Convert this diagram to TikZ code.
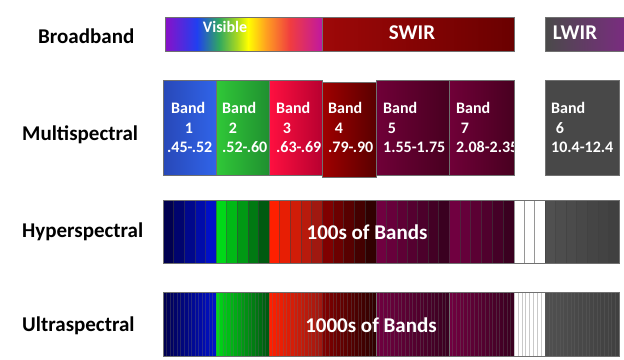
\documentclass[tikz,border=0pt]{standalone}
\usepackage{fontspec}
\setmainfont{Carlito}
\definecolor{vpurple}{HTML}{8A10C8}
\definecolor{vblue}{HTML}{2040F0}
\definecolor{vgreen}{HTML}{30A860}
\definecolor{vyg}{HTML}{A8D820}
\definecolor{vyellow}{HTML}{FFFF00}
\definecolor{vorange}{HTML}{FFA020}
\definecolor{vred}{HTML}{F03C40}
\definecolor{vmag}{HTML}{C018A0}
\definecolor{swirA}{HTML}{9E0808}
\definecolor{swirB}{HTML}{6A0000}
\definecolor{lwirA}{HTML}{4A4A4A}
\definecolor{lwirB}{HTML}{7A2C80}
\definecolor{b1A}{HTML}{2848B8}
\definecolor{b1B}{HTML}{3064E8}
\definecolor{b2A}{HTML}{30C838}
\definecolor{b2B}{HTML}{209030}
\definecolor{b3A}{HTML}{FF1040}
\definecolor{b3B}{HTML}{B80030}
\definecolor{b4A}{HTML}{A00000}
\definecolor{b4B}{HTML}{5A0000}
\definecolor{b5A}{HTML}{700038}
\definecolor{b5B}{HTML}{480020}
\definecolor{b6}{HTML}{484848}
\definecolor{edge}{HTML}{707070}
% stripe colours
\definecolor{sbluA}{HTML}{000050}
\definecolor{sbluB}{HTML}{0010C8}
\definecolor{sgrnA}{HTML}{00D818}
\definecolor{sgrnB}{HTML}{005A10}
\definecolor{sredA}{HTML}{FF2000}
\definecolor{sredB}{HTML}{A01810}
\definecolor{sdrkA}{HTML}{800000}
\definecolor{sdrkB}{HTML}{300000}
\definecolor{smarA}{HTML}{700040}
\definecolor{smarB}{HTML}{3A0020}
\definecolor{sgryA}{HTML}{505050}
\definecolor{sgryB}{HTML}{404040}
\newcommand\stripes[8]{%
  \foreach \i in {1,...,#3}{%
    \pgfmathsetmacro\xa{#1+(#2-#1)*(\i-1)/#3}%
    \pgfmathsetmacro\xb{#1+(#2-#1)*\i/#3}%
    \pgfmathsetmacro\pc{100-100*(\i-1)/max(#3-1,1)}%
    \fill[#4!\pc!#5] (\xa,#6) rectangle (\xb,#7);
    \draw[#8] (\xa,#6) -- (\xa,#7);
  }}
\tikzset{
  rowlabel/.style={anchor=west,font=\fontsize{21}{21}\selectfont\bfseries,inner sep=0pt},
  bandtxt/.style={text=white,font=\fontsize{16}{16}\selectfont\bfseries,inner sep=0pt},
  bigtxt/.style={text=white,font=\fontsize{21}{21}\selectfont\bfseries,inner sep=0pt},
  hline/.style={draw=black!75,line width=0.5pt,opacity=0.55},
  uline/.style={draw=black!60,line width=0.35pt,opacity=0.35},
  boxedge/.style={draw=edge,line width=0.6pt},
}
\begin{document}
\begin{tikzpicture}[x=1pt,y=-1pt]
\useasboundingbox (0,0) rectangle (624,359);
% row labels
\node[rowlabel] (lbb) at (38,36) {Broadband};
\node[rowlabel] (lms) at (22,135) {Multispectral};
\node[rowlabel] (lhs) at (22,232) {Hyperspectral};
\node[rowlabel] (lus) at (22,326) {Ultraspectral};
% ---------- Broadband
\shade[left color=vpurple,right color=vblue] (165,17) rectangle (197,51);
\shade[left color=vblue,right color=vgreen] (197,17) rectangle (219,51);
\shade[left color=vgreen,right color=vyg] (219,17) rectangle (237,51);
\shade[left color=vyg,right color=vyellow] (237,17) rectangle (248,51);
\shade[left color=vyellow,right color=vorange] (248,17) rectangle (266,51);
\shade[left color=vorange,right color=vred] (266,17) rectangle (290,51);
\shade[left color=vred,right color=vmag] (290,17) rectangle (322,51);
\shade[left color=swirA,right color=swirB] (322,17) rectangle (514,51);
\draw[boxedge] (165,17) rectangle (514,51);
\draw[boxedge] (322,17) -- (322,51);
\shade[left color=lwirA,right color=lwirB] (545,17) rectangle (625,51);
\draw[boxedge] (625,17) -| (545,51) -- (625,51);
\node[bigtxt,font=\fontsize{16}{16}\selectfont\bfseries] (tvis) at (225,27) {Visible};
\node[bigtxt] (tswir) at (412,33) {SWIR};
\node[bigtxt] (tlwir) at (575,33) {LWIR};
% ---------- Multispectral
\shade[left color=b1A,right color=b1B,boxedge] (163,80) rectangle (216,175);
\shade[left color=b2A,right color=b2B,boxedge] (216,80) rectangle (269,175);
\shade[left color=b3A,right color=b3B,boxedge] (269,80) rectangle (322,175);
\shade[left color=b5A,right color=b5B,boxedge] (376,80) rectangle (449,175);
\shade[left color=b5A,right color=b5B,boxedge] (449,80) rectangle (514,175);
\shade[left color=b4A,right color=b4B,boxedge] (322,82) rectangle (376,177);
\fill[b6] (545,80) rectangle (619,175);
\draw[boxedge] (545,80) rectangle (619,175);
% band texts
\foreach \bx/\nx/\rx/\n/\r [count=\k] in {171/189/167/1/.45-.52, 222/233/222/2/.52-.60, 276/287/276/3/.63-.69, 328/339/328/4/.79-.90, 383/392/383/5/1.55-1.75, 551/560/551/6/10.4-12.4}{
  \node[bandtxt,anchor=west] (bw\k) at (\bx,108) {Band};
  \node[bandtxt] (bn\k) at (\nx,128) {\n};
  \node[bandtxt,anchor=west] (br\k) at (\rx,147) {\r};
}
\begin{scope}
  \clip (449,80) rectangle (513.5,175);
  \node[bandtxt,anchor=west] (bw7) at (456,108) {Band};
  \node[bandtxt] (bn7) at (465,128) {7};
  \node[bandtxt,anchor=west] (br7) at (456,147) {2.08-2.35};
\end{scope}
% ---------- Hyperspectral
\stripes{163}{216}{5}{sbluA}{sbluB}{200}{263}{hline}
\stripes{216}{269}{5}{sgrnA}{sgrnB}{200}{263}{hline}
\stripes{269}{322}{5}{sredA}{sredB}{200}{263}{hline}
\stripes{322}{376}{5}{sdrkA}{sdrkB}{200}{263}{hline}
\stripes{376}{449}{7}{smarA}{smarB}{200}{263}{hline}
\stripes{449}{514}{6}{smarA}{smarB}{200}{263}{hline}
\stripes{514}{545}{3}{white}{white}{200}{263}{hline}
\stripes{545}{619}{7}{sgryA}{sgryB}{200}{263}{hline}
\draw[boxedge] (163,200) rectangle (619,263);
\node[bigtxt] (t100) at (367,232) {100s of Bands};
% ---------- Ultraspectral
\stripes{163}{216}{15}{sbluA}{sbluB}{292}{356}{uline}
\stripes{216}{269}{15}{sgrnA}{sgrnB}{292}{356}{uline}
\stripes{269}{322}{15}{sredA}{sredB}{292}{356}{uline}
\stripes{322}{376}{15}{sdrkA}{sdrkB}{292}{356}{uline}
\stripes{376}{449}{20}{smarA}{smarB}{292}{356}{uline}
\stripes{449}{514}{18}{smarA}{smarB}{292}{356}{uline}
\stripes{514}{545}{8}{white}{white}{292}{356}{uline}
\stripes{545}{619}{20}{sgryA}{sgryB}{292}{356}{uline}
\draw[boxedge] (163,292) rectangle (619,356);
\draw[boxedge] (376,292) -- (376,356) (449,292) -- (449,356);
\node[bigtxt] (t1000) at (371,325) {1000s of Bands};
\end{tikzpicture}
\end{document}
